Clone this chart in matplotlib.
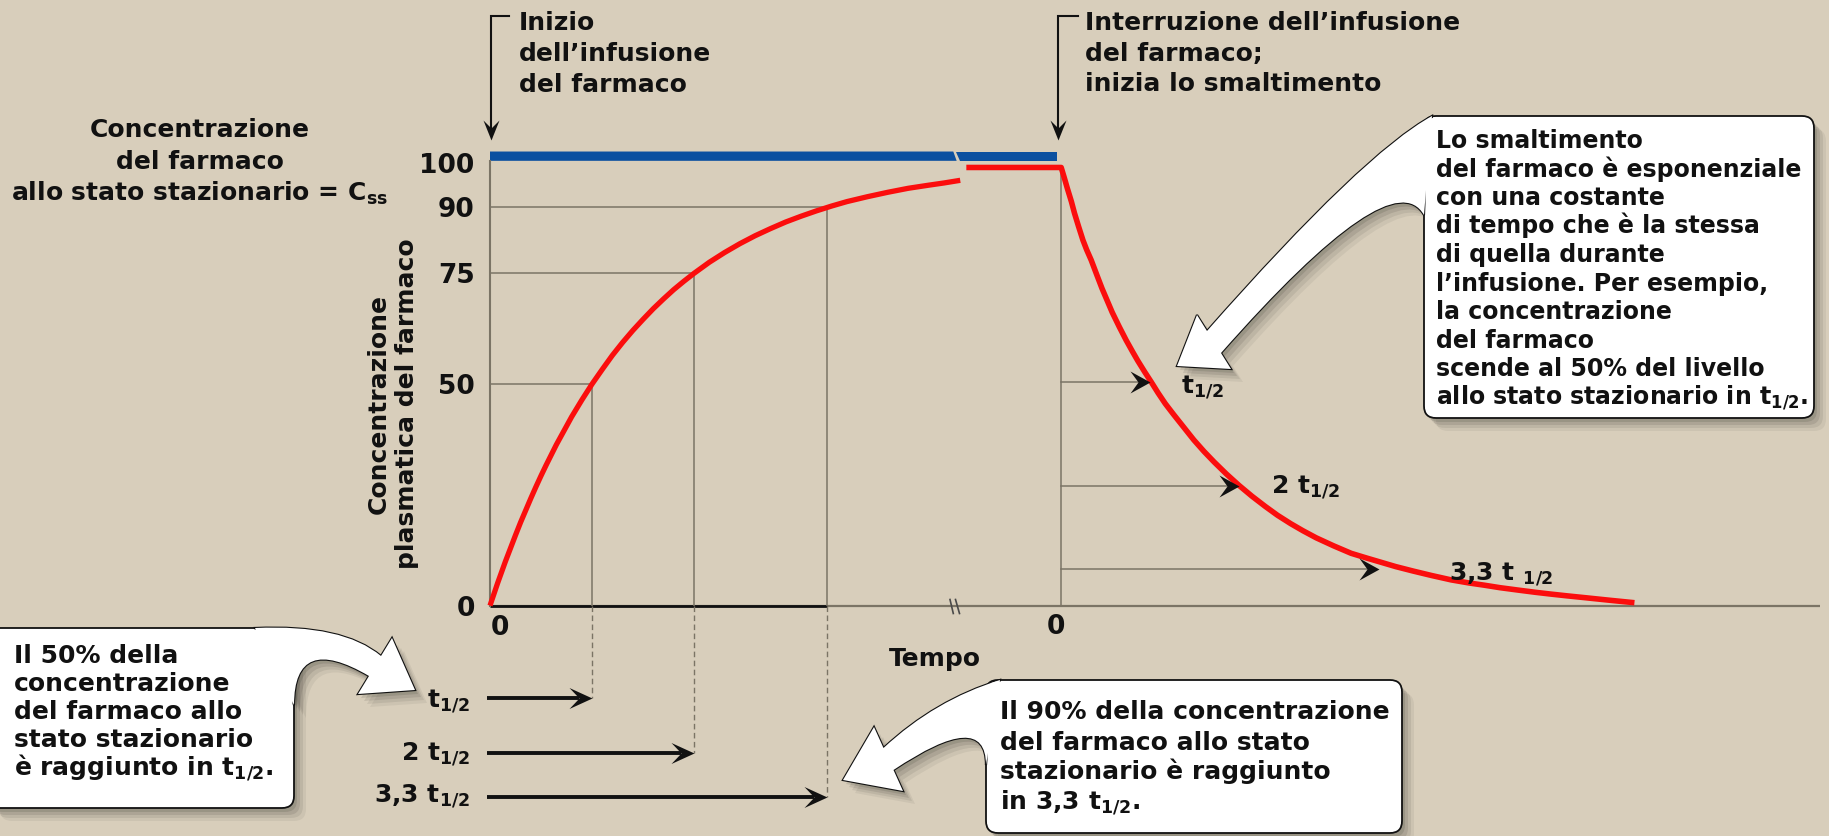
import numpy as np
import matplotlib
matplotlib.use("Agg")
import matplotlib.pyplot as plt
from matplotlib.path import Path
from matplotlib.patches import PathPatch, FancyBboxPatch
from matplotlib.markers import MarkerStyle
from matplotlib.transforms import Affine2D

plt.rcParams['font.family'] = ['DejaVu Sans']
plt.rcParams['font.weight'] = 'bold'
plt.rcParams['mathtext.fontset'] = 'dejavusans'
plt.rcParams['mathtext.default'] = 'bf'

# ---------------- data ----------------
# infusion phase: time in half-lives, concentration in % of Css
rise_t = [0, 0.025, 0.05, 0.075, 0.1, 0.15, 0.2, 0.25, 0.3, 0.35, 0.4, 0.45, 0.5, 0.55,
          0.6, 0.65, 0.7, 0.75, 0.8, 0.9, 1.0, 1.1, 1.2, 1.3, 1.4, 1.5, 1.6, 1.7, 1.8,
          1.9, 2.0, 2.15, 2.3, 2.45, 2.6, 2.75, 2.9, 3.05, 3.2, 3.35, 3.5, 3.7, 3.9,
          4.1, 4.3, 4.45, 4.61]
rise_c = [0, 1.7, 3.4, 5.1, 6.7, 9.9, 12.9, 15.9, 18.8, 21.5, 24.2, 26.8, 29.3, 31.7,
          34.0, 36.3, 38.4, 40.5, 42.6, 46.4, 50.0, 53.3, 56.5, 59.4, 62.1, 64.6, 67.0,
          69.2, 71.3, 73.2, 75.0, 77.5, 79.7, 81.7, 83.5, 85.1, 86.6, 87.9, 89.1, 90.2,
          91.2, 92.3, 93.3, 94.2, 94.9, 95.4, 96.0]
rise_mark_t = [1, 2, 3.3]
rise_mark_c = [50, 75, 90]
rise_labels = ["$t_{1/2}$", "2 $t_{1/2}$", "3,3 $t_{1/2}$"]

# after the axis break (time since the infusion stops)
plateau_start = 4.67
stop_time = 5.6
decay_t = [0, 0.03, 0.06, 0.1, 0.13, 0.17, 0.213, 0.25, 0.294, 0.35, 0.4, 0.45, 0.5,
           0.57, 0.637, 0.7, 0.75, 0.82, 0.882, 0.95, 1.02, 1.1, 1.2, 1.3, 1.4, 1.5,
           1.62, 1.745, 1.87, 2.0, 2.12, 2.25, 2.37, 2.5, 2.67, 2.843, 3.0, 3.118, 3.28,
           3.45, 3.63, 3.824, 4.0, 4.15, 4.3, 4.48, 4.65, 4.8, 4.96, 5.13, 5.38, 5.62]
decay_c = [98.9, 96.6, 94.2, 91.2, 88.6, 85.6, 82.5, 80.3, 78.0, 74.6, 71.6, 68.9, 66.2,
           62.9, 59.9, 57.3, 55.3, 52.7, 50.5, 48.0, 45.6, 43.2, 40.3, 37.4, 34.8, 32.4,
           29.7, 27.1, 24.7, 22.4, 20.4, 18.5, 16.9, 15.3, 13.5, 11.8, 10.7, 9.9, 8.8,
           7.8, 6.8, 5.8, 5.1, 4.6, 4.05, 3.5, 3.0, 2.6, 2.2, 1.8, 1.2, 0.65]
decay_mark_t = [0.873, 1.745, 3.118]
decay_mark_c = [50.4, 27.1, 8.2]
decay_labels = ["$t_{1/2}$", "2 $t_{1/2}$", "3,3 t $_{1/2}$"]

infusion_end = 5.56
yticks = [0, 50, 75, 90, 100]

# ---------------- style ----------------
BG = '#d8cebb'
RED = '#fb0d0d'
BLUE = '#0b50a0'
GRAY = '#7b7465'
DARK = '#111111'

W, H = 1829, 836
fig = plt.figure(figsize=(W / 100, H / 100), dpi=100, facecolor=BG)

X0, Y0 = 490, 605.6       # pixel position of the origin
PX, PY = 102.0, 4.43      # pixels per half-life / per % unit


def vy(py):
    return (Y0 - py) / PY


def tx(px):
    return (px - X0) / PX


def head(L, hw, notch, direction='right'):
    v = np.array([(0, 0), (-L, hw), (-notch, 0), (-L, -hw), (0, 0)], float)
    if direction == 'down':
        v = np.column_stack([v[:, 1], -v[:, 0]])
    path = Path(v, [Path.MOVETO, Path.LINETO, Path.LINETO, Path.LINETO, Path.CLOSEPOLY])
    ms = 2 * np.abs(v).max() * 0.72
    return MarkerStyle(path), ms


ax = fig.add_axes([X0 / W, (H - Y0) / H, (W - X0) / W, Y0 / H], zorder=1)
ax.set_xlim(0, (W - X0) / PX)
ax.set_ylim(0, Y0 / PY)
ax.patch.set_visible(False)
for s in ['top', 'right', 'bottom']:
    ax.spines[s].set_visible(False)
ax.spines['left'].set_bounds(0, 100.4)
ax.spines['left'].set_color(GRAY)
ax.spines['left'].set_linewidth(1.5)
ax.set_xticks([])
ax.set_yticks(yticks)
ax.set_yticklabels([str(v) for v in yticks])
ax.tick_params(axis='y', length=0, pad=11, labelsize=19, labelcolor=DARK)

# baseline
ax.plot([0, tx(1820)], [0, 0], color=GRAY, lw=1.6, clip_on=False, solid_capstyle='butt')
ax.plot([0, rise_mark_t[-1]], [0, 0], color=DARK, lw=2.0, clip_on=False, solid_capstyle='butt')
# axis break marks
for a, b in [(950, 953.3), (955.5, 959.5)]:
    ax.plot([tx(a), tx(b)], [vy(599.5), vy(613.5)], color='#4a4a4a', lw=1.2, clip_on=False)

# reference lines of the infusion phase
for t, c in zip(rise_mark_t, rise_mark_c):
    ax.plot([0, t], [c, c], color=GRAY, lw=1.1, zorder=2)
    ax.plot([t, t], [0, c], color=GRAY, lw=1.1, zorder=2)

# infusion bar (blue) with a slanted break
ax.fill([0, 0, 4.542, 4.575], [100.4, 102.5, 102.5, 100.4], color=BLUE, lw=0, clip_on=False)
ax.fill([4.569, infusion_end, infusion_end, 4.608], [102.5, 102.5, 100.4, 100.4],
        color=BLUE, lw=0, clip_on=False)

# stop axis
ax.plot([stop_time, stop_time], [0, decay_c[0]], color=GRAY, lw=1.1, zorder=2)

# red curves
ax.plot(rise_t, rise_c, color=RED, lw=3.8, solid_capstyle='butt', solid_joinstyle='round',
        zorder=5, clip_on=False)
ax.plot([plateau_start] + [stop_time + t for t in decay_t], [decay_c[0]] + decay_c,
        color=RED, lw=4.0, solid_capstyle='butt', solid_joinstyle='round', zorder=5,
        clip_on=False)

# elimination arrows
mk_s, ms_s = head(20, 11, 12)
for t, c in zip(decay_mark_t, decay_mark_c):
    ax.plot([stop_time, stop_time + t - 12 / PX], [c, c], color=GRAY, lw=1.1, zorder=3)
    ax.plot([stop_time + t], [c], marker=mk_s, ms=ms_s, color=DARK, mew=0, zorder=6)

# infusion-phase arrows below the axis
arrow_py = [698.3, 752.7, 796.7]
mk_b, ms_b = head(23, 10.5, 13)
for t, py in zip(rise_mark_t, arrow_py):
    yv = vy(py)
    ax.plot([t, t], [0, yv], color=GRAY, lw=1.0, ls=(0, (4, 2.5)), clip_on=False)
    ax.plot([tx(487), t - 13 / PX], [yv, yv], color=DARK, lw=2.8, clip_on=False,
            solid_capstyle='butt')
    ax.plot([t], [yv], marker=mk_b, ms=ms_b, color=DARK, mew=0, clip_on=False, zorder=6)

# x-axis zero labels
ax.text(tx(500), vy(628), "0", fontsize=19, ha='center', va='center', color=DARK)
ax.text(tx(1056), vy(627), "0", fontsize=19, ha='center', va='center', color=DARK)

# ---------------- overlay (pixel coordinates) ----------------
ov = fig.add_axes([0, 0, 1, 1], zorder=2)
ov.set_xlim(0, W)
ov.set_ylim(H, 0)
ov.axis('off')


def lines(x, baselines, texts, size, ha='left'):
    for b, s in zip(baselines, texts):
        ov.text(x, b, s, fontsize=size, ha=ha, va='baseline', color=DARK, zorder=20)


# header brackets
mk_d, ms_d = head(20, 8, 12, 'down')
for xb, xe in [(491, 509), (1058, 1078)]:
    ov.plot([xe, xb, xb], [16, 16, 128], color=DARK, lw=1.5, solid_joinstyle='miter')
    ov.plot([xb], [140], marker=mk_d, ms=ms_d, color=DARK, mew=0)

lines(519, [30, 61, 92], ["Inizio", "dell’infusione", "del farmaco"], 18)
lines(1085, [30, 61, 91], ["Interruzione dell’infusione", "del farmaco;",
                           "inizia lo smaltimento"], 18)
lines(200, [137, 169, 201], ["Concentrazione", "del farmaco",
                             "allo stato stazionario = $C_{ss}$"], 18, ha='center')

ov.text(393, 404, "Concentrazione\nplasmatica del farmaco", fontsize=18, rotation=90,
        ha='center', va='center', multialignment='center', linespacing=1.2, color=DARK)
ov.text(935, 659, "Tempo", fontsize=18, ha='center', va='center', color=DARK)

# labels of arrows below the axis
lines(470, [707, 760, 802], rise_labels, 18, ha='right')
# labels of elimination arrows
for (x, b), s in zip([(1181, 393), (1271, 493), (1449, 580)], decay_labels):
    ov.text(x, b, s, fontsize=18, ha='left', va='baseline', color=DARK, zorder=20)


def arrow_path(p_out, c_out, O, HO, T, HI, I, c_in, p_in):
    verts = [p_out, c_out, O, HO, T, HI, I, c_in, p_in, p_out]
    codes = [Path.MOVETO, Path.CURVE3, Path.CURVE3, Path.LINETO, Path.LINETO,
             Path.LINETO, Path.LINETO, Path.CURVE3, Path.CURVE3, Path.CLOSEPOLY]
    return Path(verts, codes)


def callout(box, apath):
    x0, y0, x1, y1 = box

    def bp(dx=0, dy=0, sh=0, **kw):
        return FancyBboxPatch((x0 + dx + sh, y0 + dy + sh), x1 - x0 - 2 * sh, y1 - y0 - 2 * sh,
                              boxstyle=f"round,pad=0,rounding_size={12 - sh}", **kw)

    for dx, dy, a in [(3, 4, 0.10), (6, 7, 0.09), (9, 10, 0.07), (12, 13, 0.05)]:
        ov.add_patch(bp(dx, dy, fc='black', ec='none', alpha=a, zorder=8))
        ov.add_patch(PathPatch(apath.transformed(Affine2D().translate(dx, dy)),
                               fc='black', ec='none', alpha=a, zorder=8))
    ov.add_patch(bp(fc='white', ec=DARK, lw=1.3, zorder=9))
    ov.add_patch(PathPatch(apath, fc='white', ec=DARK, lw=1.6, zorder=10))
    ov.add_patch(bp(sh=1.5, fc='white', ec='none', zorder=11))
    ov.add_patch(PathPatch(apath, fc='white', ec='none', zorder=12))


# right callout
callout((1424, 116, 1814, 418),
        arrow_path((1432, 116), (1364, 153), (1207, 331), (1197, 315), (1177, 366),
                   (1231, 369), (1221, 353), (1392, 159), (1424, 215)))
lines(1436, [148 + 28.5 * i for i in range(10)],
      ["Lo smaltimento", "del farmaco è esponenziale", "con una costante",
       "di tempo che è la stessa", "di quella durante", "l’infusione. Per esempio,",
       "la concentrazione", "del farmaco", "scende al 50% del livello",
       "allo stato stazionario in $t_{1/2}$."], 17)

# bottom-left callout
callout((-12, 628, 294, 808),
        arrow_path((255, 628), (343, 624), (381, 656), (392, 638), (415, 690),
                   (358, 694), (369, 676), (294, 632), (294, 705)))
lines(14, [663, 691, 719, 747, 775],
      ["Il 50% della", "concentrazione", "del farmaco allo", "stato stazionario",
       "è raggiunto in $t_{1/2}$."], 18)

# bottom-right callout
callout((986, 680, 1402, 833),
        arrow_path((1000, 680), (935, 700), (883.5, 748), (874, 727), (843, 780),
                   (903, 791), (893.5, 770), (986, 708), (986, 765)))
lines(1000, [719, 750, 779, 809],
      ["Il 90% della concentrazione", "del farmaco allo stato",
       "stazionario è raggiunto", "in 3,3 $t_{1/2}$."], 18)

fig.savefig("out.png", dpi=100, facecolor=BG)
